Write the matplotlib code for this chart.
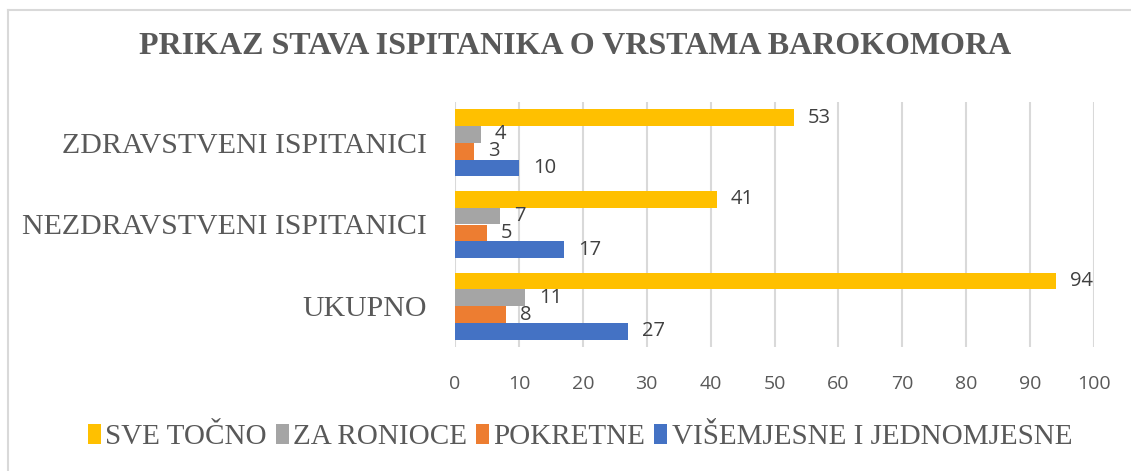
import numpy as np
import matplotlib
matplotlib.use("Agg")
import matplotlib.pyplot as plt
from matplotlib.lines import Line2D
from matplotlib.patches import Patch

# data
categories = ["UKUPNO", "NEZDRAVSTVENI ISPITANICI", "ZDRAVSTVENI ISPITANICI"]
series_names = ["VIŠEMJESNE I JEDNOMJESNE", "POKRETNE", "ZA RONIOCE", "SVE TOČNO"]
visemjesne = [27, 17, 10]
pokretne = [8, 5, 3]
za_ronioce = [11, 7, 4]
sve_tocno = [94, 41, 53]
x_ticks = [0, 10, 20, 30, 40, 50, 60, 70, 80, 90, 100]

colors = ["#4472C4", "#ED7D31", "#A5A5A5", "#FFC000"]
text_col = "#595959"
serif = "Liberation Serif"
sans = "Open Sans"

fig = plt.figure(figsize=(11.31, 4.71), dpi=100)
ax = fig.add_axes([455 / 1131, 1 - 347 / 471, (1094 - 455) / 1131, 245 / 471])

y = np.arange(len(categories))
h = 0.205
all_series = [visemjesne, pokretne, za_ronioce, sve_tocno]
for i, (vals, col) in enumerate(zip(all_series, colors)):
    pos = y + (i - 1.5) * h
    ax.barh(pos, vals, height=h, color=col, zorder=3)
    for p, v in zip(pos, vals):
        ax.text(v + 2.2, p, str(v), va="center", ha="left",
                fontsize=14.5, color="#404040", family=sans, zorder=4)

ax.set_xlim(0, 100)
ax.set_ylim(-0.5, 2.5)
ax.set_xticks(x_ticks)
ax.set_xticklabels([str(t) for t in x_ticks], family=sans, fontsize=14,
                   color=text_col)
ax.set_yticks(y)
ax.set_yticklabels(categories, family=serif, fontsize=21.5, color=text_col)
ax.tick_params(axis="both", length=0)
ax.tick_params(axis="y", pad=20)
ax.tick_params(axis="x", pad=20)
ax.grid(axis="x", color="#D9D9D9", linewidth=1.5, zorder=0)
for s in ax.spines.values():
    s.set_visible(False)

fig.text(575 / 1131, 1 - 47 / 471, "PRIKAZ STAVA ISPITANIKA O VRSTAMA BAROKOMORA",
         ha="center", va="center", family=serif, fontweight="bold",
         fontsize=23, color=text_col)

handles = [Patch(facecolor=c) for c in colors[::-1]]
fig.legend(handles, series_names[::-1], loc="center",
           bbox_to_anchor=(580 / 1131, 1 - 437 / 471), ncol=4, frameon=False,
           prop={"family": serif, "size": 21}, labelcolor=text_col,
           handlelength=0.45, handleheight=0.7, handletextpad=0.15,
           columnspacing=0.3)

# chart area border
fig.add_artist(Line2D([7.5 / 1131, 7.5 / 1131], [0, 1 - 9.5 / 471],
                      transform=fig.transFigure, color="#D9D9D9", linewidth=1.5))
fig.add_artist(Line2D([7.5 / 1131, 1], [1 - 9.5 / 471, 1 - 9.5 / 471],
                      transform=fig.transFigure, color="#D9D9D9", linewidth=1.5))

fig.savefig("out.png", dpi=100)
